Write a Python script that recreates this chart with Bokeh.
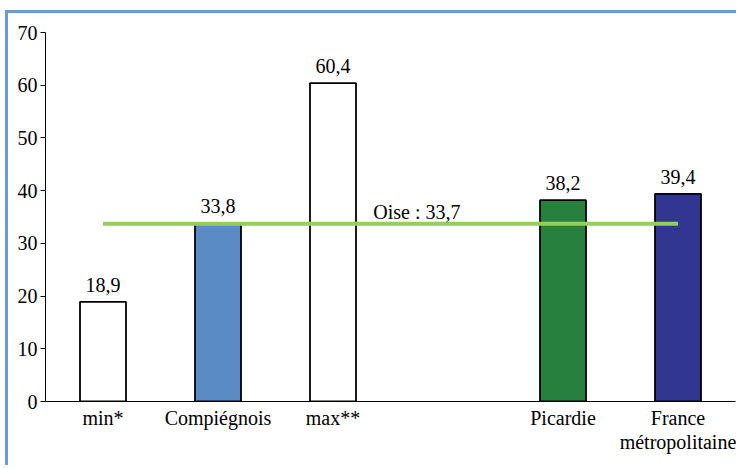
from bokeh.plotting import figure
from bokeh.models import FactorRange, Range1d, ColumnDataSource, LabelSet, FixedTicker
from bokeh.core.properties import value
from bokeh.embed import file_html
from bokeh.resources import INLINE

# ---- data ----
categories = ["min*", "Compiégnois", "max**", " ", "Picardie", "France\nmétropolitaine"]
bar_categories = ["min*", "Compiégnois", "max**", "Picardie", "France\nmétropolitaine"]
values = [18.9, 33.8, 60.4, 38.2, 39.4]
bar_colors = ["#ffffff", "#5a8bc4", "#ffffff", "#28803f", "#313791"]
oise_value = 33.7
y_ticks = [0, 10, 20, 30, 40, 50, 60, 70]

FONT = "Liberation Serif"
FS = "20px"

p = figure(
    width=731, height=455,
    x_range=FactorRange(*categories, range_padding=0),
    y_range=Range1d(0, 70),
    output_backend="svg", toolbar_location=None,
    min_border_left=37, min_border_right=4, min_border_top=19, min_border_bottom=67,
)
p.styles = {"margin-left": "5px", "margin-top": "10px",
            "border-left": "3px solid #6a9bd4", "border-top": "3px solid #6a9bd4"}
p.outline_line_color = None
p.xgrid.grid_line_color = None
p.ygrid.grid_line_color = None

src = ColumnDataSource(dict(
    x=bar_categories,
    top=values,
    color=bar_colors,
    label=[f"{v:.1f}".replace(".", ",") for v in values],
))
p.vbar(x="x", top="top", width=0.4, bottom=0, source=src,
       fill_color="color", line_color="black", line_width=1.8)

p.line(x=[bar_categories[0], bar_categories[-1]], y=[oise_value, oise_value],
       line_color="#94cf5a", line_width=4)

labels = LabelSet(x="x", y="top", text="label", source=src, y_offset=10,
                  text_align="center", text_baseline="alphabetic",
                  text_font=value(FONT), text_font_size=FS, text_color="black")
p.add_layout(labels)

oise_src = ColumnDataSource(dict(
    x=[2.85], y=[oise_value],
    text=["Oise : " + f"{oise_value:.1f}".replace(".", ",")],
))
p.add_layout(LabelSet(x="x", y="y", text="text", source=oise_src, y_offset=5,
                      text_align="left", text_baseline="alphabetic",
                      text_font=value(FONT), text_font_size=FS, text_color="black"))

p.yaxis.ticker = FixedTicker(ticks=y_ticks)
p.yaxis.major_tick_out = 5
p.yaxis.major_tick_in = 0
p.yaxis.minor_tick_line_color = None
p.yaxis.major_label_standoff = 3
p.yaxis.axis_line_color = "black"
p.yaxis.major_label_text_font = FONT
p.yaxis.major_label_text_font_size = FS
p.yaxis.major_label_text_color = "black"

p.xaxis.major_tick_line_color = None
p.xaxis.minor_tick_line_color = None
p.xaxis.major_tick_out = 0
p.xaxis.major_tick_in = 0
p.xaxis.major_label_standoff = 5
p.xaxis.axis_line_color = "black"
p.xaxis.major_label_text_font = FONT
p.xaxis.major_label_text_font_size = FS
p.xaxis.major_label_text_line_height = 1.1
p.xaxis.major_label_text_color = "black"

open("out.html", "w").write(file_html(p, INLINE))
